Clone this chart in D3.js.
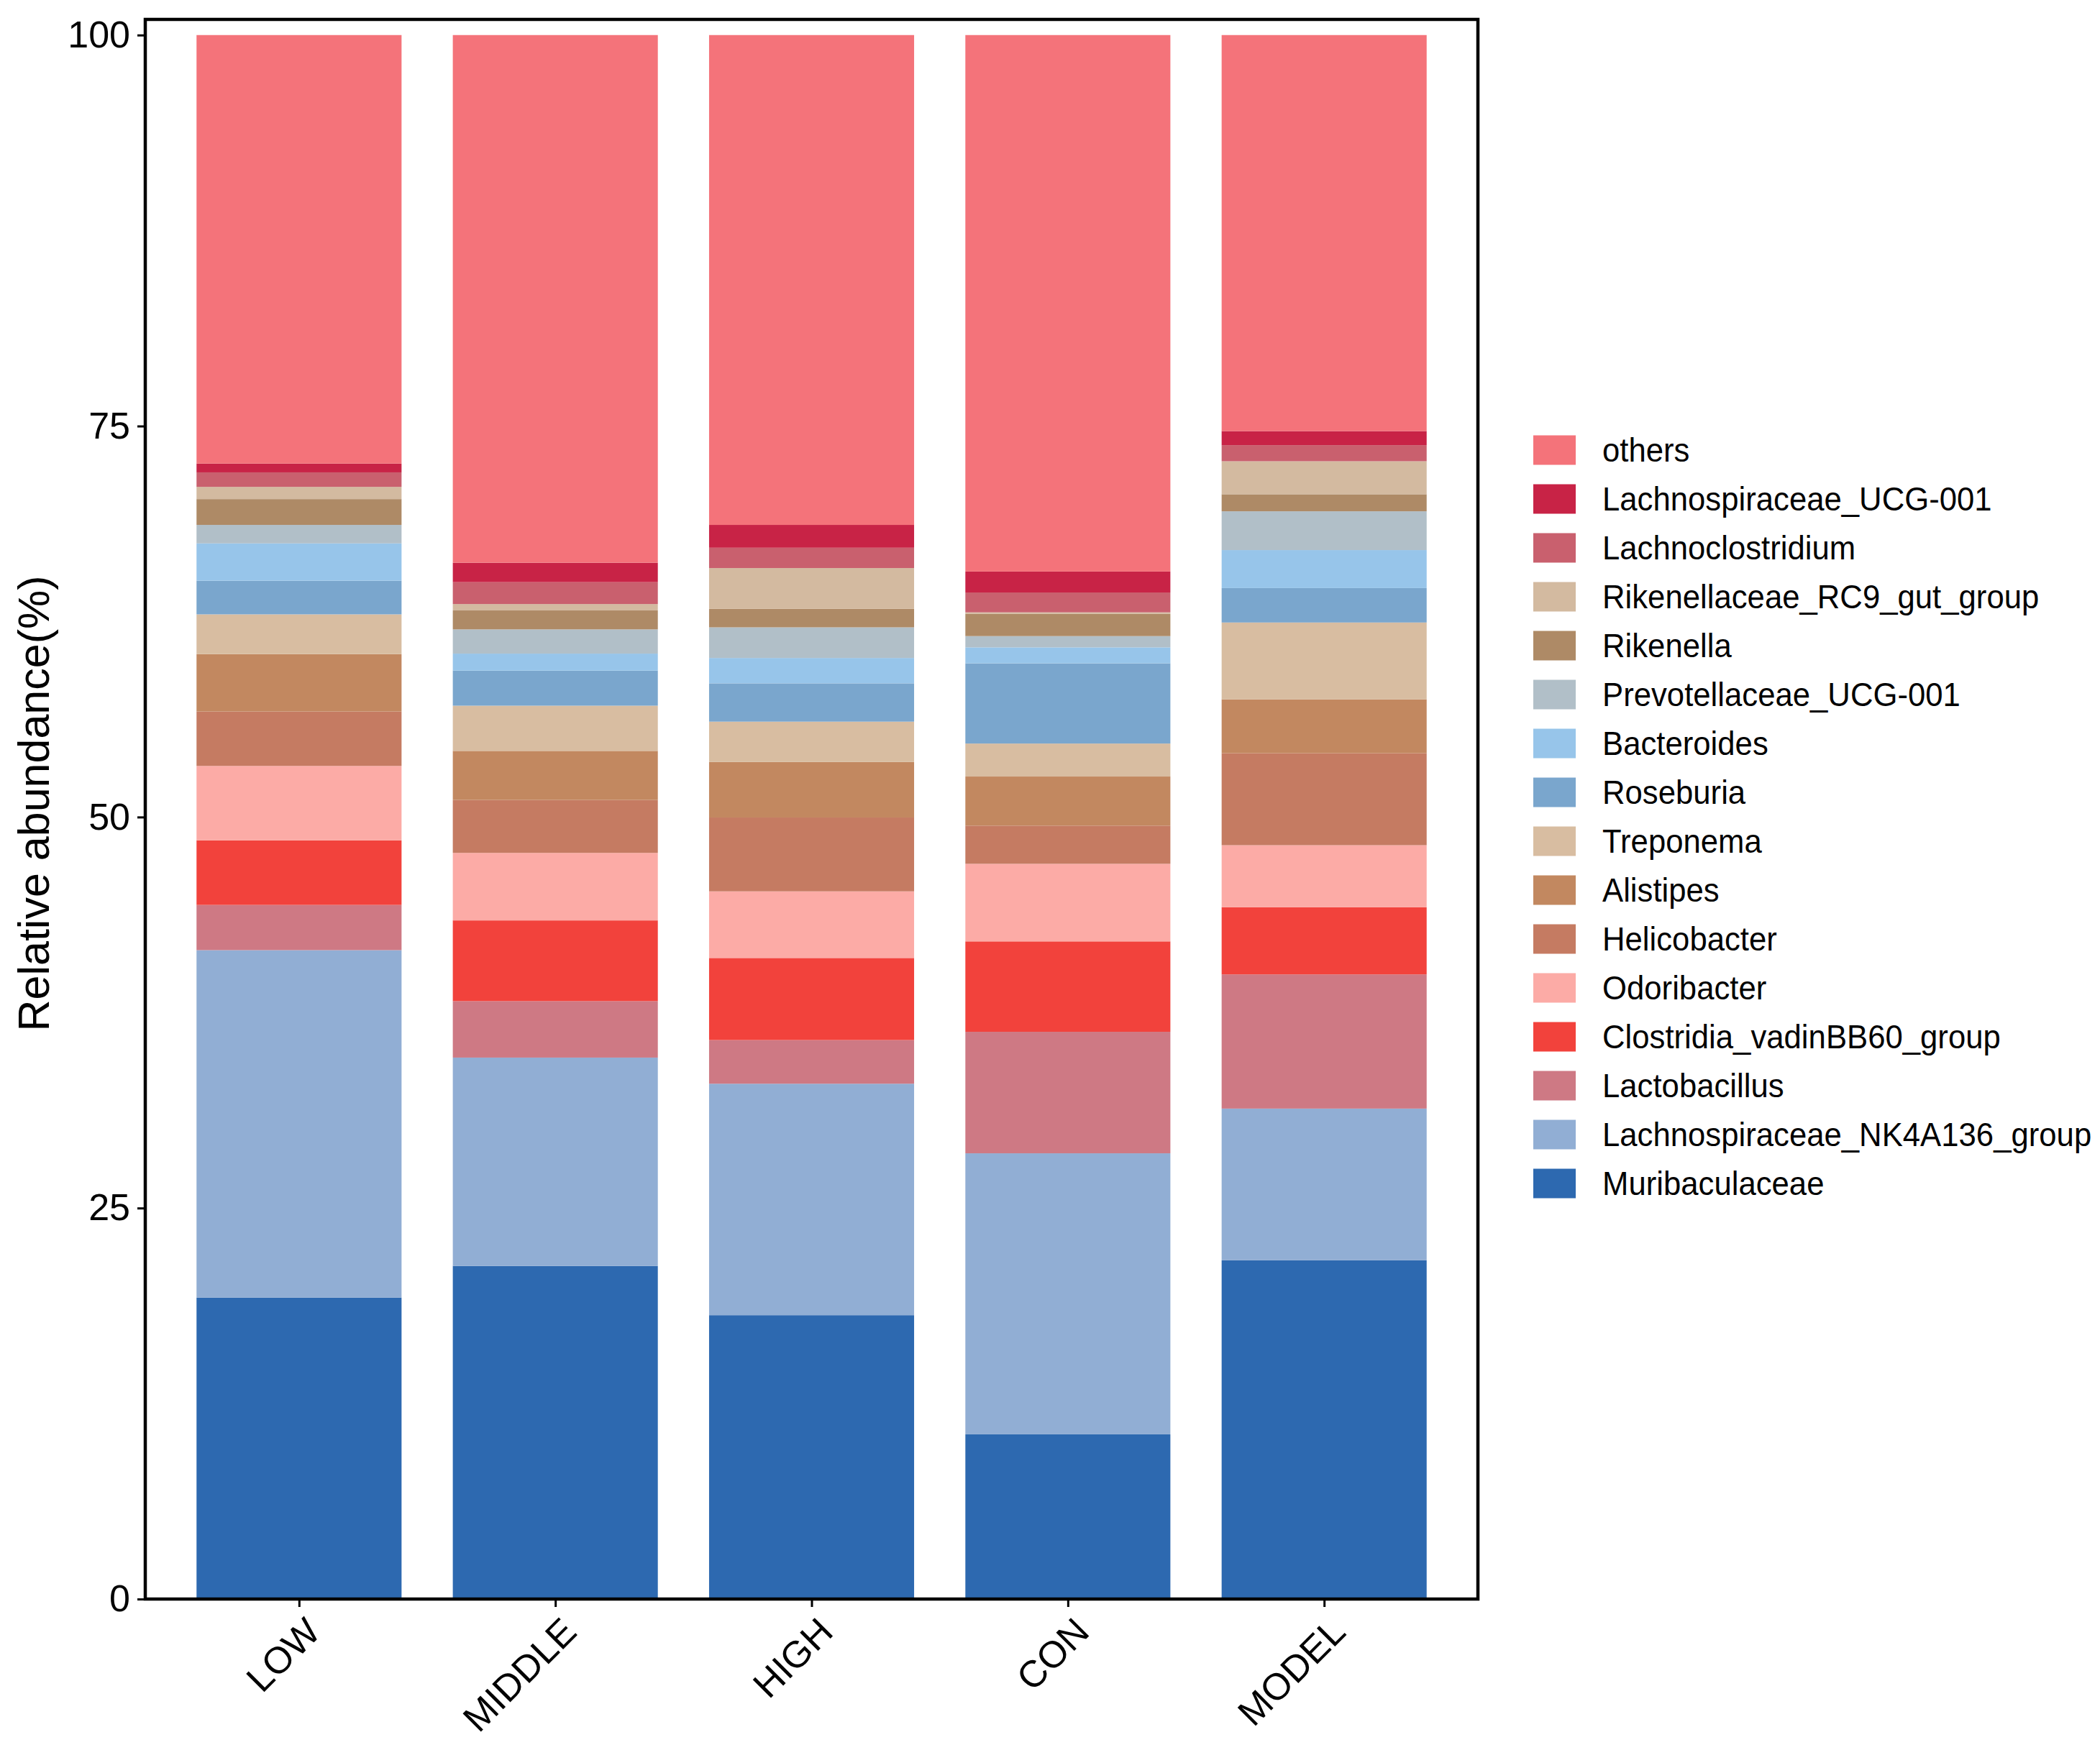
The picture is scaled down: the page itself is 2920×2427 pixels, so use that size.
<!DOCTYPE html>
<html>
<head>
<meta charset="utf-8">
<script src="https://cdn.jsdelivr.net/npm/d3@7"></script>
<style>
	body { margin: 0; background: #fff; }
	text { font-family: "Liberation Sans", Arial, sans-serif; fill: #000; }
</style>
</head>
<body>
<div id="chart"></div>
<script>

// groups on the x axis
const groups = ["LOW", "MIDDLE", "HIGH", "CON", "MODEL"];

// taxa, stacked from the bottom up
const taxa = ["Muribaculaceae", "Lachnospiraceae_NK4A136_group", "Lactobacillus",
	"Clostridia_vadinBB60_group", "Odoribacter", "Helicobacter", "Alistipes", "Treponema",
	"Roseburia", "Bacteroides", "Prevotellaceae_UCG-001", "Rikenella",
	"Rikenellaceae_RC9_gut_group", "Lachnoclostridium", "Lachnospiraceae_UCG-001", "others"];

const taxa_colors = ["#2d69b0", "#91aed4", "#ce7984", "#f2423c", "#fcaba6", "#c57b62",
	"#c28860", "#d8bda1", "#7aa6cd", "#97c5ea", "#b1bfc8", "#ae8a66", "#d3baa0",
	"#c9606e", "#c82346", "#f4737a"];

// relative abundance (%) per group, same order as taxa
const low_values    = [19.27, 22.22, 2.89, 4.13, 4.76, 3.48, 3.67, 2.54, 2.15, 2.39, 1.18, 1.65, 0.78, 0.93, 0.56, 27.40];
const middle_values = [21.30, 13.32, 3.61, 5.16, 4.32, 3.38, 3.14, 2.89, 2.24, 1.09, 1.55, 1.21, 0.41, 1.40, 1.24, 33.74];
const high_values   = [18.15, 14.80, 2.79, 5.25, 4.26, 4.72, 3.55, 2.58, 2.45, 1.62, 1.96, 1.18, 2.61, 1.30, 1.46, 31.32];
const con_values    = [10.53, 17.97, 7.77, 5.78, 4.96, 2.44, 3.14, 2.11, 5.13, 1.02, 0.72, 1.43, 0.09, 1.27, 1.34, 34.30];
const model_values  = [21.66, 9.70, 8.58, 4.29, 3.97, 5.88, 3.45, 4.91, 2.20, 2.43, 2.48, 1.09, 2.11, 1.03, 0.90, 25.32];

const y_ticks = [0, 25, 50, 75, 100];

draw_stacked_bars();

function draw_stacked_bars()
{
	// canvas size and margins
	let margin = {top: 27, right: 865, bottom: 203, left: 202};
	let full_width = 2920, full_height = 2427;
	let width = full_width - margin.left - margin.right;
	let height = full_height - margin.top - margin.bottom;

	let svg = d3.select("#chart")
		.append("svg")
		.attr("width", full_width)
		.attr("height", full_height)
		.append("g")
		.attr("transform", "translate(" + margin.left + "," + margin.top + ")");

	// build table for d3.stack
	let group_values = [low_values, middle_values, high_values, con_values, model_values];
	let table = groups.map((g, i) => {
		let row = {group: g};
		taxa.forEach((t, j) => row[t] = group_values[i][j]);
		return row;
	});
	let series = d3.stack().keys(taxa)(table);

	//scales
	let x_scale = d3.scalePoint()
		.domain(groups)
		.range([0, width])
		.padding(0.6);
	let bar_width = x_scale.step() * 0.8;

	let y_scale = d3.scaleLinear()
		.domain([0, 101])
		.range([height, 0]);

	let color = d3.scaleOrdinal()
		.domain(taxa)
		.range(taxa_colors);

	//draw the bars
	svg.selectAll("g.layer")
		.data(series)
		.enter()
		.append("g")
		.attr("class", "layer")
		.attr("fill", d => color(d.key))
		.selectAll("rect")
		.data(d => d)
		.enter()
		.append("rect")
		.attr("x", d => x_scale(d.data.group) - bar_width / 2)
		.attr("y", d => y_scale(d[1]))
		.attr("width", bar_width)
		.attr("height", d => y_scale(d[0]) - y_scale(d[1]));

	//y axis
	let y_axis = d3.axisLeft(y_scale)
		.tickValues(y_ticks)
		.tickSize(11)
		.tickPadding(10);

	let y_g = svg.append("g").call(y_axis);
	y_g.select(".domain").remove();
	y_g.selectAll(".tick line").attr("stroke", "#000").attr("stroke-width", 3);
	y_g.selectAll(".tick text").attr("font-size", 52).attr("fill", "#000");

	//x axis
	let x_axis = d3.axisBottom(x_scale)
		.tickSize(11)
		.tickFormat("");

	let x_g = svg.append("g")
		.attr("transform", "translate(0," + height + ")")
		.call(x_axis);
	x_g.select(".domain").remove();
	x_g.selectAll(".tick line").attr("stroke", "#000").attr("stroke-width", 3);

	// rotated x labels
	svg.selectAll("text.x_label")
		.data(groups)
		.enter()
		.append("text")
		.attr("class", "x_label")
		.attr("transform", d => "translate(" + (x_scale(d) + 6) + "," + (height + 22) + ") rotate(-45)")
		.attr("text-anchor", "end")
		.attr("dy", "0.72em")
		.attr("font-size", 52)
		.text(d => d);

	//frame around panel
	svg.append("rect")
		.attr("x", 0)
		.attr("y", 0)
		.attr("width", width)
		.attr("height", height)
		.attr("fill", "none")
		.attr("stroke", "#000")
		.attr("stroke-width", 4.5);

	//y axis title
	svg.append("text")
		.attr("transform", "translate(" + (-134) + "," + (height / 2 - 8) + ") rotate(-90)")
		.attr("text-anchor", "middle")
		.attr("font-size", 61)
		.text("Relative abundance(%)");

	//legend, others on top
	let legend_keys = taxa.slice().reverse();
	let legend = svg.append("g")
		.attr("transform", "translate(" + (width + 77) + "," + (626 - margin.top) + ")");

	let items = legend.selectAll("g")
		.data(legend_keys)
		.enter()
		.append("g")
		.attr("transform", (d, i) => "translate(0," + (i * 68) + ")");

	items.append("rect")
		.attr("x", 0)
		.attr("y", -20.5)
		.attr("width", 59)
		.attr("height", 41)
		.attr("fill", d => color(d));

	// labels are a bit narrower than Liberation Sans, squeeze them horizontally
	items.append("text")
		.attr("transform", "translate(96,0) scale(0.95,1)")
		.attr("dy", "0.35em")
		.attr("font-size", 46)
		.text(d => d);
}

</script>
</body>
</html>
